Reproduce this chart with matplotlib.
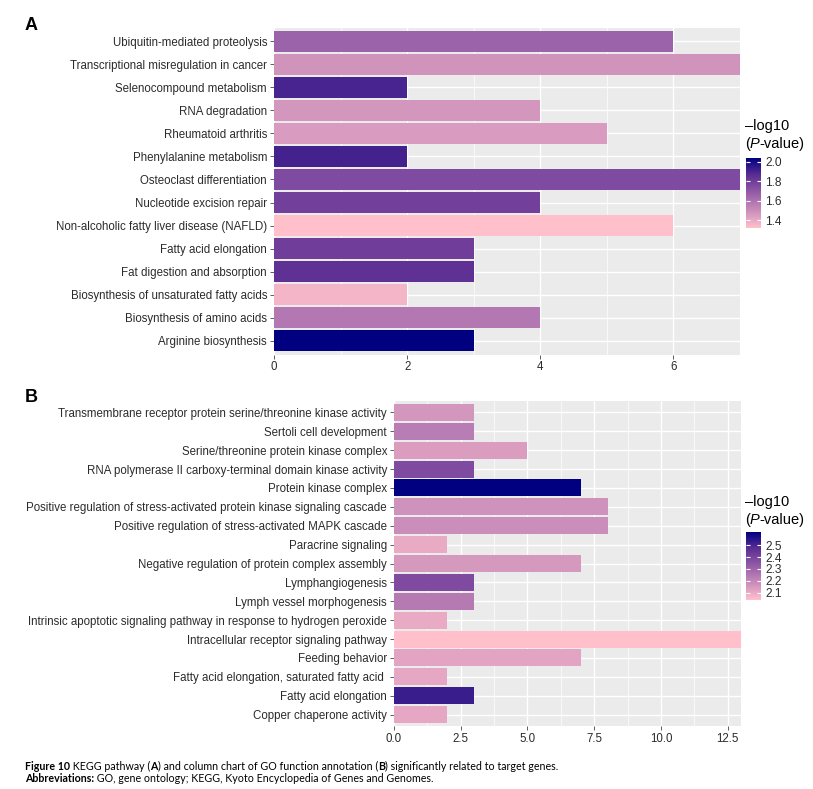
import numpy as np
import matplotlib
matplotlib.use('Agg')
import matplotlib.pyplot as plt
from matplotlib.colors import LinearSegmentedColormap, Normalize
from matplotlib.cm import ScalarMappable

# panel A: KEGG pathways, listed top to bottom
kegg_terms = ['Ubiquitin-mediated proteolysis', 'Transcriptional misregulation in cancer',
              'Selenocompound metabolism', 'RNA degradation', 'Rheumatoid arthritis',
              'Phenylalanine metabolism', 'Osteoclast differentiation', 'Nucleotide excision repair',
              'Non-alcoholic fatty liver disease (NAFLD)', 'Fatty acid elongation',
              'Fat digestion and absorption', 'Biosynthesis of unsaturated fatty acids',
              'Biosynthesis of amino acids', 'Arginine biosynthesis']
kegg_counts = [6, 7, 2, 4, 5, 2, 7, 4, 6, 3, 3, 2, 4, 3]
kegg_logp = [1.66, 1.48, 1.90, 1.47, 1.45, 1.91, 1.75, 1.79, 1.32, 1.80, 1.85, 1.36, 1.58, 2.04]

# panel B: GO terms, listed top to bottom
go_terms = ['Transmembrane receptor protein serine/threonine kinase activity',
            'Sertoli cell development', 'Serine/threonine protein kinase complex',
            'RNA polymerase II carboxy-terminal domain kinase activity', 'Protein kinase complex',
            'Positive regulation of stress-activated protein kinase signaling cascade',
            'Positive regulation of stress-activated MAPK cascade', 'Paracrine signaling',
            'Negative regulation of protein complex assembly', 'Lymphangiogenesis',
            'Lymph vessel morphogenesis',
            'Intrinsic apoptotic signaling pathway in response to hydrogen peroxide',
            'Intracellular receptor signaling pathway', 'Feeding behavior',
            'Fatty acid elongation, saturated fatty acid ', 'Fatty acid elongation',
            'Copper chaperone activity']
go_counts = [3, 3, 5, 3, 7, 8, 8, 2, 7, 3, 3, 2, 13, 7, 2, 3, 2]
go_logp = [2.16, 2.23, 2.14, 2.38, 2.61, 2.17, 2.18, 2.10, 2.15, 2.38, 2.24, 2.10, 2.04,
           2.12, 2.11, 2.52, 2.11]

kegg_cb_ticks = [1.4, 1.6, 1.8, 2.0]
go_cb_ticks = [2.1, 2.2, 2.3, 2.4, 2.5]

W, H = 813, 789
cmap = LinearSegmentedColormap.from_list('pinknavy', [(0, '#ffc0cb'), (0.25, '#ca8dba'),
                                                     (0.5, '#955da7'), (0.75, '#5d2f94'),
                                                     (1, '#000080')])
fig = plt.figure(figsize=(W / 100, H / 100), dpi=100)
fig.patch.set_facecolor('white')
regular = ['Liberation Sans', 'DejaVu Sans']


def box(l, t, r, b):
    # pixel box -> figure fraction
    return [l / W, 1 - b / H, (r - l) / W, (b - t) / H]


def panel(ax, terms, counts, logp, xmax, major, minor, size, fmt):
    n = len(terms)
    pos = np.arange(n)[::-1]
    norm = Normalize(min(logp), max(logp))
    ax.set_facecolor('#ebebeb')
    ax.set_axisbelow(True)
    ax.barh(pos, counts, height=0.9, color=cmap(norm(np.array(logp))))
    ax.set_xlim(0, xmax)
    ax.set_ylim(-0.6, n - 0.4)
    ax.set_yticks(pos)
    ax.set_yticklabels(terms, family=regular, fontsize=size, color='#2b2b2b')
    ax.set_xticks(major)
    ax.set_xticklabels([fmt % v for v in major], family=regular, fontsize=size, color='#2b2b2b')
    ax.set_xticks(minor, minor=True)
    ax.grid(which='major', color='white', lw=1.0)
    ax.grid(which='minor', axis='x', color='white', lw=0.5)
    for s in ax.spines.values():
        s.set_visible(False)
    ax.tick_params(which='major', length=3, width=0.6, color='#444444', pad=2)
    ax.tick_params(which='minor', length=0)
    return norm


def rich(px, py, parts, size, fam):
    # run of text pieces with mixed styles on one line
    r = fig.canvas.get_renderer()
    x = px / W
    for s, kw in parts:
        t = fig.text(x, 1 - py / H, s, fontsize=size, family=fam, va='center', ha='left', **kw)
        a = fig.text(0, 0, s + 'x', fontsize=size, family=fam, **kw)
        b = fig.text(0, 0, 'x', fontsize=size, family=fam, **kw)
        x += (a.get_window_extent(r).width - b.get_window_extent(r).width) / W
        a.remove()
        b.remove()


def colorbar(norm, ticks, top, bottom, title_y):
    cax = fig.add_axes(box(746, top, 761, bottom))
    cb = fig.colorbar(ScalarMappable(norm=norm, cmap=cmap), cax=cax, ticks=ticks, format='%.1f')
    cb.outline.set_visible(False)
    cax.tick_params(left=True, right=True, direction='in', length=3, width=0.8,
                    color='white', labelsize=8.6, labelcolor='#2b2b2b', pad=3)
    for lab in cax.get_yticklabels():
        lab.set_family(regular)
    rich(745, title_y, [('\u2013log10', {})], 10.5, regular)
    rich(745, title_y + 18, [('(', {}), ('P', {'style': 'italic'}), ('-value)', {})], 10.5, regular)


axA = fig.add_axes(box(274, 27.5, 740, 354.5))
normA = panel(axA, kegg_terms, kegg_counts, kegg_logp, 7, [0, 2, 4, 6], [1, 3, 5], 8.3, '%d')
colorbar(normA, kegg_cb_ticks, 158, 228, 126)

axB = fig.add_axes(box(394, 401, 741, 726))
normB = panel(axB, go_terms, go_counts, go_logp, 13, [0, 2.5, 5, 7.5, 10, 12.5],
              [1.25, 3.75, 6.25, 8.75, 11.25], 8.3, '%.1f')
colorbar(normB, go_cb_ticks, 532, 600, 502)

fig.text(25 / W, 1 - 25 / H, 'A', fontsize=13, fontweight='bold', family=regular, va='center')
fig.text(25 / W, 1 - 397 / H, 'B', fontsize=13, fontweight='bold', family=regular, va='center')

cap = ['Lato', 'DejaVu Sans']
bold = {'fontweight': 'bold'}
rich(25, 766, [('Figure 10', bold), (' KEGG pathway (', {}), ('A', bold),
               (') and column chart of GO function annotation (', {}), ('B', bold),
               (') significantly related to target genes.', {})], 7.7, cap)
rich(25, 779, [('Abbreviations:', bold),
               (' GO, gene ontology; KEGG, Kyoto Encyclopedia of Genes and Genomes.', {})], 7.7, cap)

fig.savefig('out.png', dpi=100)
